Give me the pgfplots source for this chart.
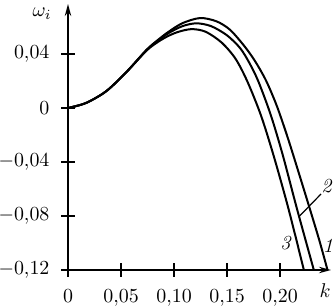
\documentclass[border=0pt]{standalone}
\usepackage{pgfplots}
\pgfplotsset{compat=1.18}
\usetikzlibrary{arrows.meta}
\begin{document}
\begin{tikzpicture}
\useasboundingbox (-34bp,-18.5bp) rectangle (133bp,135bp);
\begin{axis}[
  scale only axis,
  width=131.5bp, height=133bp,
  xmin=0, xmax=0.2481,
  ymin=-0.12, ymax=0.077,
  axis lines=left,
  axis line style={line width=0.9bp,-{Stealth[length=6bp,width=3.2bp]}},
  tick align=center,
  major tick length=6.5bp,
  tick style={line width=0.7bp,black},
  xtick={0,0.05,0.10,0.15,0.20},
  xticklabels={$0$,$0{,}05$,$0{,}10$,$0{,}15$,$0{,}20$},
  ytick={-0.12,-0.08,-0.04,0,0.04},
  yticklabels={$-0{,}12$,$-0{,}08$,$-0{,}04$,$0$,$0{,}04$},
  xticklabel style={yshift=-3bp},
  yticklabel style={xshift=-2.5bp},
  clip=false,
]
\addplot[black, line width=1bp, smooth, tension=0.5] coordinates {
(0,0) (0.017,0.0037) (0.036,0.0124) (0.055,0.0265) (0.074,0.0430) (0.085,0.0505)
(0.095,0.0565) (0.108,0.0628) (0.1245,0.0666) (0.14,0.0642) (0.153,0.0578) (0.167,0.0452)
(0.177,0.0340) (0.187,0.0200) (0.197,0.0015) (0.207,-0.0213) (0.217,-0.0463)
(0.227,-0.0718) (0.237,-0.0978) (0.2448,-0.1200)};
\addplot[black, line width=1bp, smooth, tension=0.5] coordinates {
(0,0) (0.017,0.0037) (0.036,0.0124) (0.055,0.0265) (0.074,0.0428) (0.085,0.0500)
(0.095,0.0555) (0.108,0.0606) (0.121,0.0627) (0.135,0.0606) (0.15,0.0538) (0.1623,0.0444)
(0.171,0.0335) (0.1795,0.0198) (0.1912,-0.005) (0.2025,-0.0346) (0.2158,-0.0741)
(0.2319,-0.1200)};
\addplot[black, line width=1bp, smooth, tension=0.5] coordinates {
(0,0) (0.017,0.0037) (0.036,0.0124) (0.055,0.0265) (0.074,0.0424) (0.085,0.0490)
(0.095,0.0535) (0.105,0.0566) (0.117,0.0584) (0.13,0.0564) (0.145,0.0484) (0.158,0.0365)
(0.1691,0.0198) (0.1818,-0.005) (0.1937,-0.0346) (0.2078,-0.0741) (0.2225,-0.1200)};
\draw[line width=0.6bp] (axis cs:0.2185,-0.080) -- (axis cs:0.2387,-0.0637);
\node at (axis cs:0.2443,-0.0578) {\textit{2}};
\node at (axis cs:0.2057,-0.100) {\textit{3}};
\node at (axis cs:0.2453,-0.1022) {\textit{1}};
\node at (axis cs:0.2425,-0.1356) {$k$};
\node[inner sep=0pt] at (axis cs:-0.0245,0.0700) {$\omega_i$};
\end{axis}
\end{tikzpicture}
\end{document}
